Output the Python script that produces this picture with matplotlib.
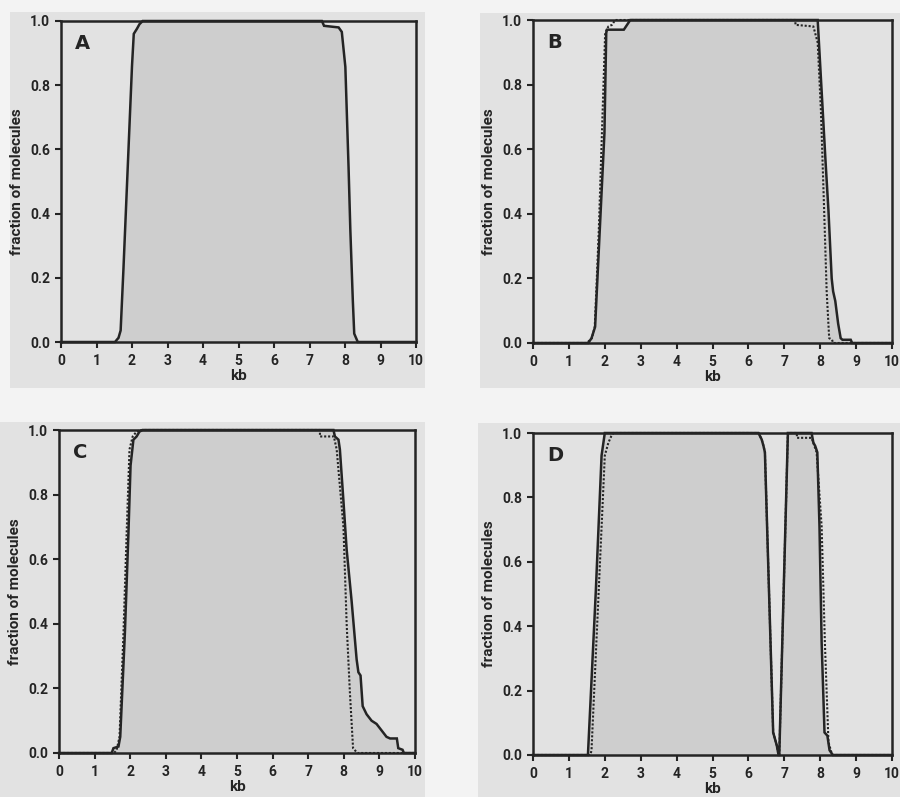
import matplotlib
matplotlib.use("Agg")
import matplotlib.pyplot as plt
from matplotlib.patches import Rectangle

# ---------------- data ----------------
panel_labels = ["A", "B", "C", "D"]
x_ticks = [0, 1, 2, 3, 4, 5, 6, 7, 8, 9, 10]
y_ticks = [0.0, 0.2, 0.4, 0.6, 0.8, 1.0]
y_tick_labels = ["0.0", "0.2", "0.4", "0.6", "0.8", "1.0"]
x_label = "kb"
y_label = "fraction of molecules"

# Panel A (solid only)
xA_solid = [0, 1.52, 1.62, 1.68, 1.76, 1.88, 2.00, 2.05, 2.14, 2.21, 2.30,
            7.35, 7.41, 7.82, 7.91, 8.01, 8.10, 8.15, 8.22, 8.26, 8.36, 10]
yA_solid = [0, 0, 0.013, 0.036, 0.23, 0.545, 0.86, 0.96, 0.976, 0.99, 1.0,
            1.0, 0.985, 0.98, 0.966, 0.857, 0.545, 0.35, 0.13, 0.026, 0, 0]

# Panel B
xB_solid = [0, 1.54, 1.63, 1.73, 1.86, 1.99, 2.04, 2.06, 2.53, 2.62, 2.71,
            7.93, 7.99, 8.07, 8.15, 8.23, 8.32, 8.36, 8.42, 8.50, 8.57, 8.62, 8.85, 8.89, 10]
yB_solid = [0, 0, 0.015, 0.05, 0.35, 0.65, 0.96, 0.97, 0.97, 0.985, 1.0,
            1.0, 0.88, 0.72, 0.56, 0.41, 0.20, 0.16, 0.13, 0.06, 0.015, 0.01, 0.01, 0, 0]
xB_dotted = [0, 1.50, 1.64, 1.72, 1.83, 1.92, 2.01, 2.10, 2.20, 2.29,
             7.31, 7.31, 7.81, 7.93, 8.02, 8.11, 8.18, 8.25, 8.33, 8.36, 10]
yB_dotted = [0, 0, 0.015, 0.05, 0.34, 0.65, 0.96, 0.98, 0.985, 1.0,
             1.0, 0.985, 0.98, 0.93, 0.72, 0.41, 0.16, 0.015, 0.01, 0, 0]

# Panel C
xC_solid = [0, 1.48, 1.53, 1.67, 1.72, 1.85, 1.95, 2.01, 2.09, 2.18, 2.26, 2.35,
            7.71, 7.75, 7.85, 7.89, 7.99, 8.08, 8.22, 8.36, 8.41, 8.47, 8.53, 8.64,
            8.78, 8.92, 9.06, 9.20, 9.30, 9.49, 9.53, 9.65, 9.69, 10]
yC_solid = [0, 0, 0.015, 0.02, 0.05, 0.37, 0.68, 0.89, 0.97, 0.98, 0.995, 1.0,
            1.0, 0.98, 0.97, 0.94, 0.78, 0.63, 0.47, 0.29, 0.25, 0.24, 0.145, 0.12,
            0.10, 0.09, 0.07, 0.05, 0.045, 0.045, 0.015, 0.01, 0, 0]
xC_dotted = [0, 1.55, 1.62, 1.70, 1.81, 1.90, 1.98, 2.07, 2.18, 2.30,
             7.33, 7.33, 7.72, 7.80, 7.99, 8.08, 8.17, 8.26, 8.34, 8.38, 10]
yC_dotted = [0, 0, 0.01, 0.05, 0.37, 0.68, 0.94, 0.98, 0.995, 1.0,
             1.0, 0.98, 0.98, 0.94, 0.70, 0.40, 0.19, 0.015, 0.005, 0, 0]

# Panel D
xD_solid = [0, 1.53, 1.75, 1.91, 2.00, 6.28, 6.37, 6.42, 6.46, 6.69, 6.79, 6.84,
            6.86, 7.10, 7.76, 7.81, 7.86, 7.92, 7.98, 8.04, 8.12, 8.20, 8.26, 8.35, 10]
yD_solid = [0, 0, 0.51, 0.93, 1.0, 1.0, 0.98, 0.96, 0.94, 0.07, 0.03, 0,
            0, 1.0, 1.0, 0.97, 0.96, 0.94, 0.71, 0.35, 0.07, 0.06, 0.015, 0, 0]
xD_dotted = [0, 1.60, 1.63, 2.00, 2.10, 2.18, 2.24, 6.28, 6.37, 6.42, 6.46, 6.69,
             6.79, 6.84, 6.86, 7.10, 7.35, 7.35, 7.76, 7.90, 8.04, 8.13, 8.23, 8.32, 8.35, 10]
yD_dotted = [0, 0, 0.015, 0.93, 0.97, 0.99, 1.0, 1.0, 0.98, 0.96, 0.94, 0.07,
             0.03, 0, 0, 1.0, 1.0, 0.985, 0.985, 0.94, 0.71, 0.35, 0.04, 0.005, 0, 0]

# ---------------- style ----------------
page_color = "#f3f3f3"
panel_color = "#e2e2e2"
fill_color = "#cecece"
ink = "#242424"

fig = plt.figure(figsize=(9.0, 7.97), dpi=100)
fig.patch.set_facecolor(page_color)

axes_rects = [
    [61 / 900, 1 - 342 / 797, 355 / 900, 321 / 797],
    [533 / 900, 1 - 343 / 797, 359 / 900, 323 / 797],
    [59 / 900, 1 - 753 / 797, 356 / 900, 323 / 797],
    [533 / 900, 1 - 755 / 797, 359 / 900, 322 / 797],
]
panel_bg = [
    [10 / 900, 1 - 388 / 797, 415 / 900, 376 / 797],
    [480 / 900, 1 - 388 / 797, 420 / 900, 375 / 797],
    [0 / 900, 0, 425 / 900, 375 / 797],
    [478 / 900, 0, 422 / 900, 374 / 797],
]
for r in panel_bg:
    fig.patches.append(Rectangle((r[0], r[1]), r[2], r[3], transform=fig.transFigure,
                                 facecolor=panel_color, edgecolor="none", zorder=-10))

solids = [(xA_solid, yA_solid), (xB_solid, yB_solid), (xC_solid, yC_solid), (xD_solid, yD_solid)]
dotteds = [None, (xB_dotted, yB_dotted), (xC_dotted, yC_dotted), (xD_dotted, yD_dotted)]

tick_font = dict(family="Roboto", weight="bold", size=10)
label_font = dict(family="Roboto", weight="bold", size=11)

for i in range(4):
    ax = fig.add_axes(axes_rects[i])
    ax.set_zorder(1)
    ax.set_facecolor(panel_color)
    xs, ys = solids[i]
    ax.fill_between(xs, ys, 0, color=fill_color, linewidth=0, zorder=1)
    if dotteds[i] is not None:
        xd, yd = dotteds[i]
        ax.plot(xd, yd, color=ink, linewidth=1.5, linestyle=(0, (1.0, 0.9)),
                zorder=2, clip_on=False)
    ax.plot(xs, ys, color=ink, linewidth=1.8, solid_joinstyle="miter", zorder=3, clip_on=False)

    ax.set_xlim(0, 10)
    ax.set_ylim(0, 1)
    ax.set_xticks(x_ticks)
    ax.set_xticklabels([str(t) for t in x_ticks], **tick_font)
    ax.set_yticks(y_ticks)
    ax.set_yticklabels(y_tick_labels, **tick_font)
    ax.tick_params(direction="out", length=4, width=1.5, color=ink, labelcolor=ink)
    ax.tick_params(axis="x", pad=4.5)
    ax.tick_params(axis="y", pad=4)
    for s in ax.spines.values():
        s.set_linewidth(1.8)
        s.set_color(ink)
        s.set_zorder(4)
    ax.set_xlabel(x_label, labelpad=1, color=ink, **label_font)
    ax.set_ylabel(y_label, labelpad=4, color=ink, **label_font)
    ax.text(0.04, 0.93, panel_labels[i], transform=ax.transAxes, ha="left", va="center",
            fontsize=14, fontweight="bold", family="DejaVu Sans", color=ink, zorder=5)

fig.savefig("out.png", dpi=100, facecolor=fig.get_facecolor())
